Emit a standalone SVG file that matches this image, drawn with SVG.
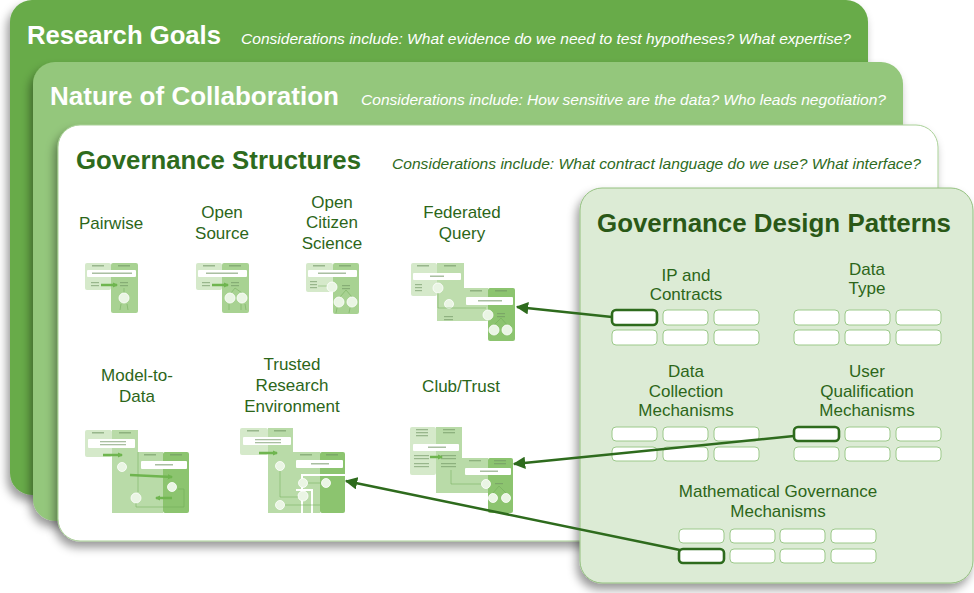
<svg xmlns="http://www.w3.org/2000/svg" width="974" height="593" viewBox="0 0 974 593">
<defs>
<filter id="sh" x="-10%" y="-10%" width="120%" height="125%">
<feDropShadow dx="-3" dy="6" stdDeviation="5" flood-color="#000" flood-opacity="0.4"/>
</filter>
<marker id="ah" viewBox="0 0 10 10" refX="9" refY="5" markerWidth="5" markerHeight="5" orient="auto-start-reverse" markerUnits="strokeWidth">
<path d="M0,0 L10,5 L0,10 z" fill="#2e6b1d"/>
</marker>
<marker id="ta" viewBox="0 0 10 10" refX="8" refY="5" markerWidth="2.2" markerHeight="2.2" orient="auto" markerUnits="strokeWidth">
<path d="M0,0 L10,5 L0,10 z" fill="#6fb54f"/>
</marker>
</defs>
<style>
.ttl{font-family:"Liberation Sans",Arial,sans-serif;font-weight:bold;font-size:26px}
.sub{font-family:"Liberation Sans",Arial,sans-serif;font-style:italic;font-size:14.5px}
.lbl{font-family:"Liberation Sans",Arial,sans-serif;font-size:17px;fill:#2c6619;text-anchor:middle}
.pl{fill:#d5e9ca}.pm{fill:#a8d292}.pd{fill:#8cc46f}
.wb{fill:#ffffff}
.cir{fill:#eaf5e4;stroke:#ffffff;stroke-width:0.8}
.tx{fill:#6f9562;opacity:0.6}
.tl{stroke:#6fa957;stroke-width:0.5;fill:none}
.ta{stroke:#6fb54f;stroke-width:2.5;fill:none}
.pb{fill:#ffffff;stroke:#9cc98a;stroke-width:1}
.ps{fill:#ffffff;stroke:#2e6b1d;stroke-width:2.6}
.con{stroke:#2e6b1d;stroke-width:2.5;fill:none}
</style>

<g id="card-research-goals">
<rect x="10" y="0" width="858" height="495" rx="22" fill="#68ab4a" filter="url(#sh)"/>
<text class="ttl" x="27" y="44" fill="#ffffff" textLength="194" lengthAdjust="spacingAndGlyphs">Research Goals</text>
<text class="sub" x="241" y="44" fill="#ffffff" textLength="610" lengthAdjust="spacingAndGlyphs">Considerations include: What evidence do we need to test hypotheses? What expertise?</text>
</g>

<g id="card-nature-of-collaboration">
<rect x="33" y="62" width="870" height="459" rx="22" fill="#94c77c" filter="url(#sh)"/>
<text class="ttl" x="50" y="105" fill="#ffffff" textLength="289" lengthAdjust="spacingAndGlyphs">Nature of Collaboration</text>
<text class="sub" x="361" y="105" fill="#ffffff" textLength="525" lengthAdjust="spacingAndGlyphs">Considerations include: How sensitive are the data? Who leads negotiation?</text>
</g>

<g id="card-governance-structures">
<rect x="58" y="125" width="880" height="416" rx="22" fill="#ffffff" stroke="#a9d097" stroke-width="1" filter="url(#sh)"/>
<text class="ttl" x="76" y="169" fill="#2e6b1d" font-size="25" textLength="285" lengthAdjust="spacingAndGlyphs">Governance Structures</text>
<text class="sub" x="392" y="169" fill="#2e6b1d" textLength="529" lengthAdjust="spacingAndGlyphs">Considerations include: What contract language do we use? What interface?</text>
</g>

<g id="node-pairwise">
<text class="lbl" x="111" y="229">Pairwise</text>
<rect class="pl" x="85" y="263" width="26" height="27" rx="2"/>
<rect class="pm" x="111" y="263" width="27" height="50" rx="2"/>
<rect class="tx" x="92" y="265" width="12" height="1.5"/><rect class="tx" x="118" y="265" width="12" height="1.5"/>
<rect class="wb" x="87" y="270" width="49" height="7" rx="1"/>
<rect class="tx" x="92" y="272.5" width="40" height="1.5"/>
<rect class="tx" x="91" y="282" width="8" height="1.2"/><rect class="tx" x="91" y="285" width="8" height="1.2"/>
<rect class="tx" x="120" y="282" width="8" height="1.2"/><rect class="tx" x="120" y="285" width="8" height="1.2"/>
<line class="ta" x1="101" y1="285" x2="117" y2="285" marker-end="url(#ta)"/>
<line class="tl" x1="124" y1="288" x2="124" y2="293"/>
<circle class="cir" cx="124" cy="298" r="5"/>
<line class="tl" x1="121" y1="304" x2="120" y2="310"/><line class="tl" x1="127" y1="304" x2="128" y2="310"/>
</g>

<g id="node-open-source">
<text class="lbl" x="222" y="218">Open</text>
<text class="lbl" x="222" y="239">Source</text>
<rect class="pl" x="196" y="263" width="26" height="27" rx="2"/>
<rect class="pm" x="222" y="263" width="27" height="50" rx="2"/>
<rect class="tx" x="203" y="265" width="12" height="1.5"/><rect class="tx" x="229" y="265" width="12" height="1.5"/>
<rect class="wb" x="198" y="270" width="49" height="7" rx="1"/>
<rect class="tx" x="206" y="272.5" width="32" height="1.5"/>
<rect class="tx" x="202" y="282" width="8" height="1.2"/><rect class="tx" x="202" y="285" width="8" height="1.2"/>
<rect class="tx" x="231" y="282" width="8" height="1.2"/><rect class="tx" x="231" y="285" width="8" height="1.2"/>
<line class="ta" x1="212" y1="285" x2="228" y2="285" marker-end="url(#ta)"/>
<line class="tl" x1="235" y1="288" x2="231" y2="293"/><line class="tl" x1="235" y1="288" x2="242" y2="293"/>
<circle class="cir" cx="230" cy="298" r="5"/><circle class="cir" cx="242" cy="298" r="5"/>
<line class="tl" x1="229" y1="304" x2="229" y2="310"/><line class="tl" x1="241" y1="304" x2="241" y2="310"/><line class="tl" x1="245" y1="304" x2="246" y2="310"/>
</g>

<g id="node-open-citizen-science">
<text class="lbl" x="332" y="208">Open</text>
<text class="lbl" x="332" y="228">Citizen</text>
<text class="lbl" x="332" y="249">Science</text>
<rect class="pl" x="306" y="263" width="27" height="29" rx="2"/>
<rect class="pm" x="333" y="263" width="26" height="51" rx="2"/>
<rect class="tx" x="313" y="265" width="12" height="1.5"/><rect class="tx" x="339" y="265" width="12" height="1.5"/>
<rect class="wb" x="308" y="270" width="49" height="7" rx="1"/>
<rect class="tx" x="318" y="272.5" width="28" height="1.5"/>
<rect class="tx" x="310" y="281" width="7" height="1.2"/><rect class="tx" x="310" y="284" width="7" height="1.2"/><rect class="tx" x="310" y="287" width="7" height="1.2"/>
<line class="tl" x1="318" y1="286" x2="327" y2="286"/>
<circle class="cir" cx="332" cy="287" r="5"/>
<rect class="tx" x="342" y="285" width="8" height="1.2"/><rect class="tx" x="342" y="288" width="8" height="1.2"/>
<line class="tl" x1="346" y1="290" x2="340" y2="297"/><line class="tl" x1="346" y1="290" x2="352" y2="297"/>
<circle class="cir" cx="339" cy="302" r="5"/><circle class="cir" cx="352" cy="302" r="5"/>
<line class="tl" x1="337" y1="308" x2="336" y2="313"/><line class="tl" x1="350" y1="308" x2="349" y2="313"/>
</g>

<g id="node-federated-query">
<text class="lbl" x="462" y="218">Federated</text>
<text class="lbl" x="462" y="239">Query</text>
<rect class="pl" x="411" y="263" width="26" height="33" rx="2"/>
<path class="pm" d="M437,263 h27 v25 h24 v33 h-51 z" opacity="0.75"/>
<rect class="pd" x="488" y="288" width="27" height="53" rx="2"/>
<rect class="tx" x="417" y="265" width="12" height="1.5"/><rect class="tx" x="444" y="265" width="12" height="1.5"/>
<rect class="tx" x="470" y="290" width="12" height="1.5"/><rect class="tx" x="495" y="290" width="12" height="1.5"/>
<rect class="wb" x="413" y="273" width="48" height="7" rx="1"/>
<rect class="tx" x="430" y="275.5" width="14" height="1.5"/>
<rect class="wb" x="466" y="297" width="47" height="8" rx="1"/>
<rect class="tx" x="478" y="300" width="24" height="1.5"/>
<rect class="tx" x="415" y="284" width="7" height="1.2"/><rect class="tx" x="415" y="287" width="7" height="1.2"/><rect class="tx" x="415" y="290" width="7" height="1.2"/>
<circle class="cir" cx="438" cy="288" r="5"/>
<circle class="cir" cx="449" cy="304" r="4.5"/>
<rect class="tx" x="444" y="316" width="9" height="1.2"/><rect class="tx" x="444" y="319" width="9" height="1.2"/>
<polyline class="tl" points="438,293 438,308 486,308"/>
<circle class="cir" cx="488" cy="315" r="5"/>
<rect class="tx" x="497" y="313" width="8" height="1.2"/><rect class="tx" x="497" y="316" width="8" height="1.2"/>
<line class="tl" x1="501" y1="318" x2="493" y2="326"/><line class="tl" x1="501" y1="318" x2="508" y2="326"/>
<circle class="cir" cx="494" cy="330" r="5"/><circle class="cir" cx="507" cy="330" r="5"/>
</g>

<g id="node-model-to-data">
<text class="lbl" x="137" y="381">Model-to-</text>
<text class="lbl" x="137" y="402">Data</text>
<rect class="pl" x="85" y="430" width="27" height="27" rx="2"/>
<path class="pm" d="M112,430 h26 v22 h25 v61 h-51 z" opacity="0.8"/>
<rect class="pd" x="163" y="452" width="26" height="61" rx="2"/>
<rect class="tx" x="92" y="432" width="12" height="1.5"/><rect class="tx" x="119" y="432" width="12" height="1.5"/>
<rect class="tx" x="144" y="454" width="12" height="1.5"/><rect class="tx" x="170" y="454" width="12" height="1.5"/>
<rect class="wb" x="88" y="439" width="47" height="9" rx="1"/>
<rect class="tx" x="100" y="441" width="26" height="1.3"/><rect class="tx" x="100" y="444" width="26" height="1.3"/>
<rect class="wb" x="141" y="461" width="46" height="8" rx="1"/>
<rect class="tx" x="155" y="464" width="18" height="1.5"/>
<line class="ta" x1="103" y1="455" x2="122" y2="455" marker-end="url(#ta)"/>
<circle class="cir" cx="122" cy="467" r="4.5"/>
<line class="ta" x1="130" y1="475" x2="172" y2="477" marker-end="url(#ta)"/>
<circle class="cir" cx="172" cy="487" r="4.5"/>
<line class="ta" x1="172" y1="498" x2="156" y2="498" marker-end="url(#ta)"/>
<circle class="cir" cx="136" cy="498" r="5"/>
<polyline class="tl" points="138,452 138,492"/>
<polyline class="tl" points="136,503 136,507 184,507 184,489 178,489"/>
</g>

<g id="node-trusted-research-environment">
<text class="lbl" x="292" y="370">Trusted</text>
<text class="lbl" x="292" y="391">Research</text>
<text class="lbl" x="292" y="412">Environment</text>
<rect class="pl" x="240" y="428" width="28" height="27" rx="2"/>
<path class="pm" d="M268,428 h25 v24 h27 v61 h-52 z" opacity="0.8"/>
<rect class="pd" x="320" y="452" width="25" height="61" rx="2"/>
<rect class="tx" x="247" y="430" width="12" height="1.5"/><rect class="tx" x="274" y="430" width="12" height="1.5"/>
<rect class="tx" x="300" y="454" width="12" height="1.5"/><rect class="tx" x="326" y="454" width="12" height="1.5"/>
<rect class="wb" x="243" y="437" width="48" height="8" rx="1"/>
<rect class="tx" x="255" y="439" width="26" height="1.3"/><rect class="tx" x="255" y="442" width="26" height="1.3"/>
<rect class="wb" x="296" y="460" width="47" height="8" rx="1"/>
<rect class="tx" x="311" y="463" width="18" height="1.5"/>
<line class="ta" x1="259" y1="453" x2="277" y2="453" marker-end="url(#ta)"/>
<polyline points="302,513 302,475 345,475" fill="none" stroke="#ffffff" stroke-width="2"/>
<polyline points="296,490 312,490 312,513" fill="none" stroke="#ffffff" stroke-width="2"/>
<circle class="cir" cx="280" cy="466" r="4.5"/>
<circle class="cir" cx="303" cy="483" r="4.5"/>
<circle class="cir" cx="303" cy="496" r="5"/>
<circle class="cir" cx="326" cy="483" r="4.5"/>
<circle class="cir" cx="280" cy="505" r="4.5"/>
<polyline class="tl" points="280,471 280,497 298,497"/>
<line class="tl" x1="308" y1="483" x2="321" y2="483"/>
<line class="tl" x1="285" y1="505" x2="320" y2="505"/>
</g>

<g id="node-club-trust">
<text class="lbl" x="461" y="392">Club/Trust</text>
<rect class="pl" x="410" y="427" width="26" height="48" rx="2"/>
<path class="pm" d="M436,427 h26 v31 h26 v35 h-52 z" opacity="0.8"/>
<rect class="pd" x="488" y="458" width="25" height="55" rx="2"/>
<rect class="tx" x="416" y="429" width="12" height="1.3"/><rect class="tx" x="416" y="432" width="12" height="1.3"/><rect class="tx" x="416" y="435" width="12" height="1.3"/>
<rect class="tx" x="443" y="429" width="12" height="1.3"/><rect class="tx" x="443" y="432" width="12" height="1.3"/>
<rect class="tx" x="469" y="460" width="12" height="1.3"/><rect class="tx" x="494" y="460" width="12" height="1.3"/><rect class="tx" x="494" y="463" width="12" height="1.3"/>
<rect class="wb" x="413" y="444" width="46" height="7" rx="1"/>
<rect class="tx" x="428" y="446.5" width="18" height="1.5"/>
<rect class="wb" x="465" y="468" width="46" height="7" rx="1"/>
<rect class="tx" x="480" y="470.5" width="18" height="1.5"/>
<rect class="tx" x="414" y="455" width="15" height="1.2"/><rect class="tx" x="414" y="458" width="15" height="1.2"/><rect class="tx" x="414" y="463" width="15" height="1.2"/><rect class="tx" x="414" y="466" width="15" height="1.2"/>
<rect class="tx" x="441" y="455" width="15" height="1.2"/><rect class="tx" x="441" y="458" width="15" height="1.2"/><rect class="tx" x="441" y="463" width="15" height="1.2"/><rect class="tx" x="441" y="466" width="15" height="1.2"/>
<line class="ta" x1="430" y1="457" x2="442" y2="457" marker-end="url(#ta)"/>
<polyline class="tl" points="451,470 451,484 481,484"/>
<circle class="cir" cx="486" cy="484" r="4.5"/>
<rect class="tx" x="495" y="483" width="8" height="1.2"/>
<line class="tl" x1="499" y1="486" x2="493" y2="493"/><line class="tl" x1="499" y1="486" x2="506" y2="493"/>
<circle class="cir" cx="493" cy="498" r="4.5"/><circle class="cir" cx="506" cy="498" r="4.5"/>
</g>

<g id="card-governance-design-patterns">
<rect x="580" y="188" width="393" height="395" rx="22" fill="#dcebd5" stroke="#93c07f" stroke-width="1" filter="url(#sh)"/>
<text class="ttl" x="597" y="232" fill="#2a5817" textLength="354" lengthAdjust="spacingAndGlyphs">Governance Design Patterns</text>
</g>

<g id="pattern-ip-contracts">
<text class="lbl" x="686" y="281">IP and</text>
<text class="lbl" x="686" y="300">Contracts</text>
<rect class="pb" x="663" y="310" width="45" height="15" rx="4"/>
<rect class="pb" x="714" y="310" width="45" height="15" rx="4"/>
<rect class="pb" x="612" y="330" width="45" height="15" rx="4"/>
<rect class="pb" x="663" y="330" width="45" height="15" rx="4"/>
<rect class="pb" x="714" y="330" width="45" height="15" rx="4"/>
<rect class="ps" x="612" y="310" width="45" height="15" rx="4"/>
</g>

<g id="pattern-data-type">
<text class="lbl" x="867" y="275">Data</text>
<text class="lbl" x="867" y="294">Type</text>
<rect class="pb" x="794" y="310" width="45" height="15" rx="4"/>
<rect class="pb" x="845" y="310" width="45" height="15" rx="4"/>
<rect class="pb" x="896" y="310" width="45" height="15" rx="4"/>
<rect class="pb" x="794" y="330" width="45" height="15" rx="4"/>
<rect class="pb" x="845" y="330" width="45" height="15" rx="4"/>
<rect class="pb" x="896" y="330" width="45" height="15" rx="4"/>
</g>

<g id="pattern-data-collection">
<text class="lbl" x="686" y="377">Data</text>
<text class="lbl" x="686" y="397">Collection</text>
<text class="lbl" x="686" y="416">Mechanisms</text>
<rect class="pb" x="612" y="427" width="45" height="14" rx="4"/>
<rect class="pb" x="663" y="427" width="45" height="14" rx="4"/>
<rect class="pb" x="714" y="427" width="45" height="14" rx="4"/>
<rect class="pb" x="612" y="447" width="45" height="14" rx="4"/>
<rect class="pb" x="663" y="447" width="45" height="14" rx="4"/>
<rect class="pb" x="714" y="447" width="45" height="14" rx="4"/>
</g>

<g id="pattern-user-qualification">
<text class="lbl" x="867" y="377">User</text>
<text class="lbl" x="867" y="397">Qualification</text>
<text class="lbl" x="867" y="416">Mechanisms</text>
<rect class="pb" x="845" y="427" width="45" height="14" rx="4"/>
<rect class="pb" x="896" y="427" width="45" height="14" rx="4"/>
<rect class="pb" x="794" y="447" width="45" height="14" rx="4"/>
<rect class="pb" x="845" y="447" width="45" height="14" rx="4"/>
<rect class="pb" x="896" y="447" width="45" height="14" rx="4"/>
<rect class="ps" x="794" y="427" width="45" height="14" rx="4"/>
</g>

<g id="pattern-mathematical-governance">
<text class="lbl" x="778" y="497">Mathematical Governance</text>
<text class="lbl" x="778" y="517">Mechanisms</text>
<rect class="pb" x="679" y="529" width="45" height="14" rx="4"/>
<rect class="pb" x="730" y="529" width="45" height="14" rx="4"/>
<rect class="pb" x="780" y="529" width="45" height="14" rx="4"/>
<rect class="pb" x="831" y="529" width="45" height="14" rx="4"/>
<rect class="pb" x="730" y="549" width="45" height="14" rx="4"/>
<rect class="pb" x="780" y="549" width="45" height="14" rx="4"/>
<rect class="pb" x="831" y="549" width="45" height="14" rx="4"/>
<rect class="ps" x="679" y="549" width="45" height="14" rx="4"/>
</g>

<g id="connectors">
<line class="con" x1="612" y1="317" x2="517" y2="307" marker-end="url(#ah)"/>
<line class="con" x1="794" y1="436" x2="514" y2="464" marker-end="url(#ah)"/>
<line class="con" x1="680" y1="550" x2="346" y2="481" marker-end="url(#ah)"/>
</g>
</svg>
